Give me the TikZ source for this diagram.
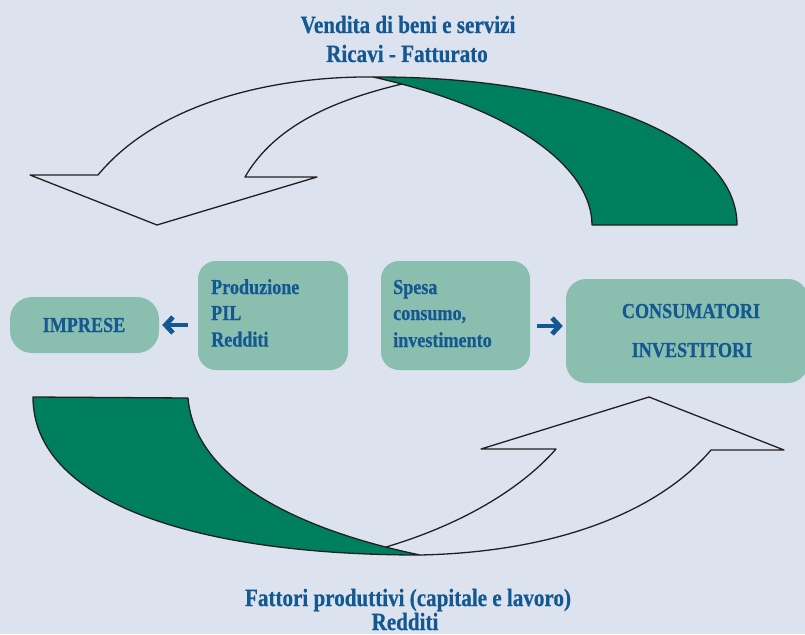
\documentclass[tikz,border=0pt]{standalone}
\usepackage{fontspec}
\newfontfamily\tfb{Liberation Serif Bold}[FakeStretch=0.85,FakeBold=0.6]
\usetikzlibrary{arrows.meta}
\definecolor{bg}{RGB}{220,227,239}
\definecolor{boxc}{RGB}{138,191,176}
\definecolor{grn}{RGB}{0,127,95}
\definecolor{txt}{RGB}{20,88,145}
\definecolor{ln}{RGB}{35,31,32}
\begin{document}
\begin{tikzpicture}[x=1pt,y=-1pt,
  box/.style={draw=none, fill=boxc, rounded corners=18pt, inner sep=0pt},
  outl/.style={draw=ln, line width=1.3pt, line join=round},
  lbl/.style={text=txt, font=\tfb\fontsize{21.3}{26}\selectfont, inner sep=0pt, anchor=base west},
  ttl/.style={text=txt, font=\tfb\fontsize{24.8}{29}\selectfont, inner sep=0pt, anchor=base},
  flow/.style={draw=txt, line width=4.8pt, -{Straight Barb[length=7.5pt,width=16pt]}}]
\fill[bg] (0,0) rectangle (805,634);
\useasboundingbox (0,0) rectangle (805,634);

% titles
\node[ttl] (t1) at (408,33) {Vendita di beni e servizi};
\node[ttl] (t2) at (407,62) {Ricavi - Fatturato};
\node[ttl] (b1) at (408,606) {Fattori produttivi (capitale e lavoro)};
\node[ttl] (b2) at (405,630) {Redditi};

% top curved arrow
\filldraw[outl, fill=grn] (373,77) .. controls (560,76) and (737,130) .. (737,225)
  -- (592,225) .. controls (592,170) and (520,110) .. (373,77) -- cycle;
\draw[outl] (402,84) .. controls (335,100) and (275,125) .. (245,177)
  -- (317,177) -- (157,225) -- (30,175) -- (98,175)
  .. controls (160,100) and (280,76) .. (373,77);

% bottom curved arrow
\filldraw[outl, fill=grn] (33,397) -- (188,398) .. controls (195,480) and (300,530) .. (420,555)
  .. controls (190,555) and (33,500) .. (33,397) -- cycle;
\draw[outl] (386,547) .. controls (460,525) and (520,490) .. (556,449)
  -- (481,449) -- (649,397) -- (784,450) -- (711,450)
  .. controls (660,510) and (560,552) .. (420,555);

% boxes
\node[box, minimum width=149pt, minimum height=56pt, rounded corners=22pt] (imp) at (84.5,325) {};
\node[box, minimum width=150pt, minimum height=109pt] (prod) at (273,315.5) {};
\node[box, minimum width=149pt, minimum height=109pt] (spesa) at (455.5,315.5) {};
\node[box, minimum width=242pt, minimum height=104pt, rounded corners=20pt] (cons) at (687,331) {};

\node[lbl, anchor=base] (impt) at (84,332) {IMPRESE};
\node[lbl] (p1) at (211,294) {Produzione};
\node[lbl] (p2) at (211,320) {PIL};
\node[lbl] (p3) at (211,346.5) {Redditi};
\node[lbl] (s1) at (393,294) {Spesa};
\node[lbl] (s2) at (393,320) {consumo,};
\node[lbl] (s3) at (393,347) {investimento};
\node[lbl, anchor=base] (c1) at (691,318) {CONSUMATORI};
\node[lbl, anchor=base] (c2) at (692,357) {INVESTITORI};

% small arrows
\draw[flow] ([shift={(-10,9.5)}]prod.west) -- ([shift={(3,0)}]imp.east);
\draw[flow] ([shift={(6.5,10.5)}]spesa.east) -- ([shift={(-3,-5)}]cons.west);
\end{tikzpicture}
\end{document}
